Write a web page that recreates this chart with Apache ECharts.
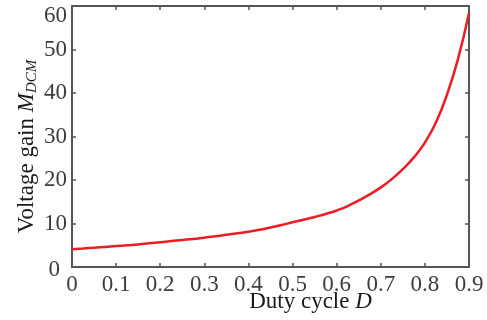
<!DOCTYPE html>
<html>
<head>
<meta charset="utf-8">
<script src="https://cdn.jsdelivr.net/npm/echarts@6/dist/echarts.min.js"></script>
<style>
  html, body { margin: 0; padding: 0; background: #fff; }
  #chart { width: 487px; height: 320px; }
</style>
</head>
<body>
<div id="chart"></div>
<script>
// Duty cycle samples (uniform 0.025 steps) and the corresponding DCM voltage gain
const dutyCycle = [0, 0.025, 0.05, 0.075, 0.1, 0.125, 0.15, 0.175, 0.2, 0.225, 0.25, 0.275, 0.3, 0.325, 0.35, 0.375,
                   0.4, 0.425, 0.45, 0.475, 0.5, 0.525, 0.55, 0.575, 0.6, 0.625, 0.65, 0.675, 0.7, 0.725, 0.75, 0.775,
                   0.8, 0.825, 0.85, 0.875, 0.9];
const gainDCM   = [4.1, 4.27, 4.45, 4.62, 4.8, 5.0, 5.2, 5.45, 5.7, 5.95, 6.2, 6.45, 6.75, 7.05, 7.4, 7.75,
                   8.1, 8.55, 9.1, 9.65, 10.3, 10.85, 11.5, 12.2, 13.0, 14.0, 15.3, 16.7, 18.3, 20.2, 22.5, 25.2,
                   28.6, 33.2, 39.6, 47.8, 58.4];

const xTicks = [0, 0.1, 0.2, 0.3, 0.4, 0.5, 0.6, 0.7, 0.8, 0.9];
const yTicks = [0, 10, 20, 30, 40, 50, 60];

const serif = '"Liberation Serif", "DejaVu Serif", serif';
const axisGray = '#555555';
const labelGray = '#3c3c3c';
const titleColor = '#1a1a1a';

const points = dutyCycle.map((d, i) => [d, gainDCM[i]]);

// shared look for the four sides of the box
const frameAxis = () => ({
  axisLine: { show: true, onZero: false, lineStyle: { color: axisGray, width: 2 } },
  axisTick: { show: true, inside: true, length: 4, lineStyle: { color: axisGray, width: 1.5 } },
  splitLine: { show: false }
});

const chart = echarts.init(document.getElementById('chart'), null, { renderer: 'canvas' });
chart.setOption({
  animation: false,
  backgroundColor: '#ffffff',
  grid: { left: 72, right: 18, top: 6, bottom: 53, containLabel: false, outerBoundsMode: 'none' },
  xAxis: [
    Object.assign(frameAxis(), {
      type: 'value', min: 0, max: 0.9, interval: 0.1, position: 'bottom',
      axisLabel: {
        color: labelGray, fontFamily: serif, fontSize: 23, margin: 6,
        formatter: v => {
          const r = +v.toFixed(2);
          return xTicks.includes(r) ? String(r) : '';
        }
      },
      name: '{n|Duty cycle }{i|D}',
      nameLocation: 'middle', nameGap: 23, nameMoveOverlap: false,
      nameTextStyle: {
        padding: [0, 0, 0, 80],
        rich: {
          n: { fontFamily: serif, fontSize: 23, color: titleColor },
          i: { fontFamily: serif, fontSize: 23, fontStyle: 'italic', color: titleColor }
        }
      }
    }),
    Object.assign(frameAxis(), {
      type: 'value', min: 0, max: 0.9, interval: 0.1, position: 'top',
      axisLabel: { show: false }
    })
  ],
  yAxis: [
    Object.assign(frameAxis(), {
      type: 'value', min: 0, max: 60, interval: 10, position: 'left',
      axisLabel: {
        color: labelGray, fontFamily: serif, fontSize: 23, margin: 5,
        formatter: v => {
          if (!yTicks.includes(v)) return '';
          if (v === 60) return '{top|' + v + '}';
          if (v === 0) return '{zero|' + v + '}';
          return String(v);
        },
        rich: {
          top: { fontFamily: serif, fontSize: 23, color: labelGray, padding: [20, 0, 0, 0] },
          zero: { fontFamily: serif, fontSize: 23, color: labelGray, padding: [6, 7, 0, 0] }
        }
      },
      name: '{n|Voltage gain }{i|M}{s|DCM}',
      nameLocation: 'middle', nameGap: 32, nameMoveOverlap: false,
      nameTextStyle: {
        padding: [0, 20, 0, 0],
        rich: {
          n: { fontFamily: serif, fontSize: 23, color: titleColor, lineHeight: 26 },
          i: { fontFamily: serif, fontSize: 23, fontStyle: 'italic', color: titleColor, lineHeight: 26 },
          s: { fontFamily: serif, fontSize: 15, fontStyle: 'italic', color: titleColor, lineHeight: 26, verticalAlign: 'bottom', padding: [6, 0, 0, 0] }
        }
      }
    }),
    Object.assign(frameAxis(), {
      type: 'value', min: 0, max: 60, interval: 10, position: 'right',
      axisLabel: { show: false }
    })
  ],
  series: [{
    type: 'line',
    data: points,
    smooth: true,
    symbol: 'none',
    lineStyle: { color: '#ec1c24', width: 2.5 },
    clip: true
  }]
});
</script>
</body>
</html>
